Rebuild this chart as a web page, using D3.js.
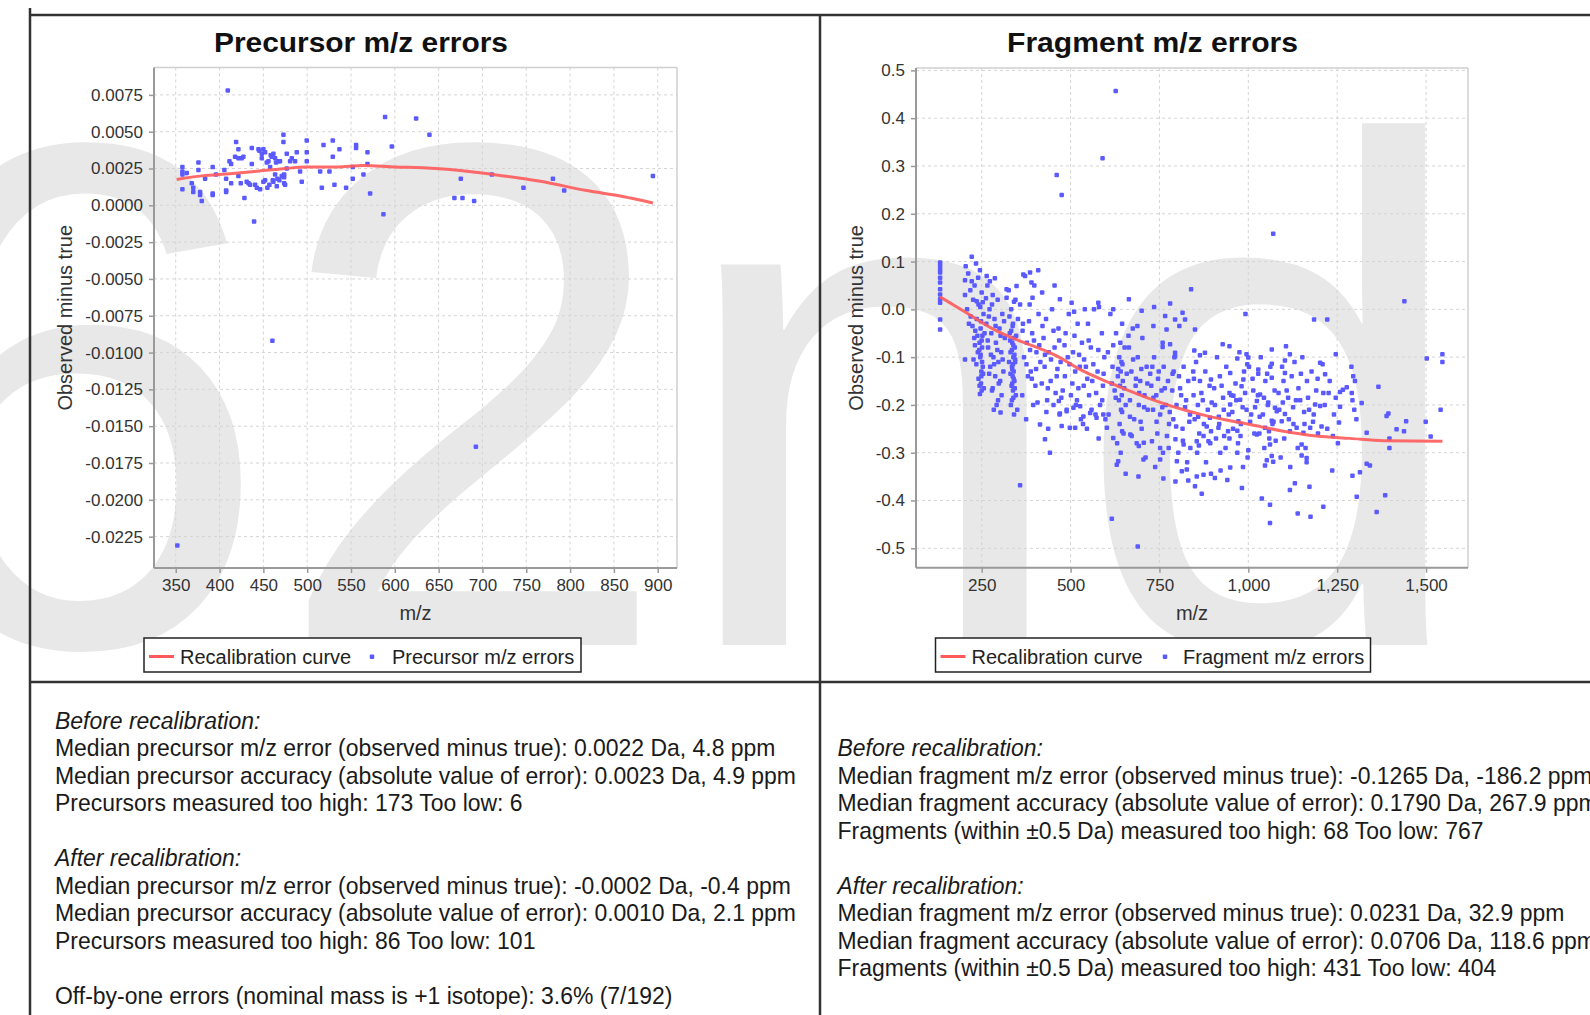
<!DOCTYPE html>
<html>
<head>
<meta charset="utf-8">
<script src="https://cdn.jsdelivr.net/npm/d3@7"></script>
<style>
  body { margin: 0; background: #fff; overflow: hidden; }
  svg { display: block; }
</style>
</head>
<body>
<svg id="chart" width="1590" height="1015"></svg>
<script>
// Recalibration report — precursor and fragment m/z error scatter plots
// with fitted recalibration curves, plus the summary text below each.

const precursorXTicks = [350, 400, 450, 500, 550, 600, 650, 700, 750, 800, 850, 900];
const precursorYTicks = [0.0075, 0.005, 0.0025, 0, -0.0025, -0.005, -0.0075, -0.01, -0.0125, -0.015, -0.0175, -0.02, -0.0225];
const fragmentXTicks = [250, 500, 750, 1000, 1250, 1500];
const fragmentYTicks = [0.5, 0.4, 0.3, 0.2, 0.1, 0, -0.1, -0.2, -0.3, -0.4, -0.5];

// [m/z, observed minus true]
const precursorPoints = [
  [409.4, 0.0078], [357.6, 0.0026], [357.6, 0.0023], [357.6, 0.0021], [357.6, 0.0011],
  [362.6, 0.0022], [368.3, 0.0015], [370, 0.0012], [370, 0.0009], [375.9, 0.0029],
  [375.9, 0.0024], [377.8, 0.0009], [377.8, 0.0007], [379.7, 0.0003], [383.5, 0.0018],
  [392.2, 0.0026], [392.2, 0.0007], [392.2, 0.0008], [396, 0.0021], [405.5, 0.0024],
  [407.5, 0.0010], [407.5, 0.0009], [407.5, 0.0018], [411.3, 0.0030], [413.2, 0.0028],
  [413.2, 0.0015], [417.7, 0.0033], [418.9, 0.0043], [421.5, 0.0038], [421.5, 0.0032],
  [421.5, 0.0020], [424.2, 0.0015], [425.3, 0.0032], [427.2, 0.0033], [428.4, 0.0005],
  [431, 0.0016], [433, 0.0015], [434.8, 0.0014], [436.8, 0.0039], [436.8, 0.0028],
  [439.4, -0.0011], [440.6, 0.0014], [442.5, 0.0012], [444.4, 0.0038], [445.5, 0.0037],
  [446.3, 0.0011], [448.2, 0.0032], [448.2, 0.0035], [450, 0.0016], [450, 0.0038],
  [452, 0.0036], [452, 0.0017], [453.9, 0.0029], [454.6, 0.0012], [455.8, 0.0030],
  [456.9, 0.0014], [457.7, 0.0026], [458.4, 0.0034], [459.6, 0.0033], [460.7, 0.0017],
  [461.5, 0.0035], [461.5, 0.0016], [463.4, 0.0021], [463.4, 0.0032], [464.5, 0.0029],
  [465.3, 0.0013], [466, 0.0018], [467.2, 0.0030], [468.3, 0.0017], [469, 0.0030],
  [471, 0.0020], [472.9, 0.0048], [472.9, 0.0043], [473.7, 0.0021], [473.7, 0.0019],
  [473.7, 0.0015], [474.8, 0.0014], [476.7, 0.0035], [476.7, 0.0025], [480.5, 0.0030],
  [482.4, 0.0032], [486.2, 0.0030], [488.1, 0.0036], [491.9, 0.0023], [493.8, 0.0016],
  [499.5, 0.0044], [499.5, 0.0036], [499.5, 0.0030], [514.8, 0.0023], [516.7, 0.0012],
  [518.6, 0.0041], [525.4, 0.0023], [529.2, 0.0044], [529.2, 0.0033], [531.1, 0.0014],
  [536.8, 0.0038], [544.4, 0.0012], [552, 0.0026], [552, 0.0018], [555.8, 0.0041],
  [555.8, 0.0039], [564.2, 0.0021], [568.8, 0.0036], [568.8, 0.0028], [571.8, 0.0008],
  [587, -0.0006], [588.9, 0.0060], [596.6, 0.0040], [624.3, 0.0059], [639.5, 0.0048],
  [675.3, 0.0018], [668, 0.0005], [677.2, 0.0005], [690.5, 0.0003], [710.7, 0.0021],
  [746.8, 0.0012], [780.4, 0.0018], [793.3, 0.0010], [894.5, 0.0020],
  [460.3, -0.0092], [351.8, -0.0231], [692.5, -0.0164]
];

const precursorCurveMz = [351, 380, 412, 440, 473, 500, 534, 564, 600, 632, 663, 712, 766, 819, 860, 894.5];
const precursorCurveErr = [0.00176, 0.0020, 0.00215, 0.0023, 0.00249, 0.0026, 0.0026, 0.0027, 0.0026, 0.00256, 0.00244, 0.0021, 0.00163, 0.0010, 0.0006, 0.00016];

const fragmentPoints = [
  // outliers and sparse edges
  [627, 0.457], [590, 0.316], [461, 0.281], [475, 0.239], [1070, 0.158], [1439, 0.017],
  [133, 0.098], [133, 0.091], [133, 0.084], [133, 0.077], [133, 0.066], [133, 0.056],
  [133, 0.042], [133, 0.031], [133, 0.021], [133, 0.014], [133, -0.021], [133, -0.042],
  [222, 0.110], [234, 0.096], [245, 0.082], [203, 0.061], [222, 0.059], [240, 0.066],
  [264, 0.070], [273, 0.059], [287, 0.065], [348, 0.049], [367, 0.073], [386, 0.077],
  [409, 0.082], [390, 0.056], [320, 0.042], [203, 0.030], [236, 0.017], [262, 0.023],
  [320, 0.024], [341, 0.016], [358, 0.010], [393, 0.024], [470, 0.021], [503, 0.014],
  [578, 0.014], [664, 0.021], [839, 0.042],
  [420, 0.035], [455, 0.050], [510, -0.005], [540, 0.000], [580, 0.005], [620, 0.000],
  [700, -0.003], [735, 0.005], [780, 0.012],
  [358, -0.368], [428, -0.272], [442, -0.300], [414, -0.241], [303, -0.216], [245, -0.177],
  [203, -0.105], [616, -0.438], [689, -0.496], [655, -0.344], [630, -0.325], [634, -0.318],
  [705, -0.314], [691, -0.350], [752, -0.314], [761, -0.354], [799, -0.318], [813, -0.339],
  [827, -0.335], [850, -0.370], [869, -0.386], [831, -0.358], [855, -0.350], [874, -0.346],
  [475, -0.244], [498, -0.248], [513, -0.248], [470, -0.218], [489, -0.213], [467, -0.192],
  [508, -0.206], [527, -0.203], [536, -0.224], [555, -0.217], [573, -0.227], [592, -0.220],
  [602, -0.248], [620, -0.269], [645, -0.255], [668, -0.262], [692, -0.286], [706, -0.279],
  [729, -0.276], [752, -0.290], [776, -0.290], [795, -0.272], [818, -0.283], [837, -0.290],
  [855, -0.276], [874, -0.265], [888, -0.276],
  [992, -0.010], [1185, -0.021], [1222, -0.021], [766, -0.014], [794, -0.021], [815, -0.007],
  [822, -0.021], [733, -0.035], [770, -0.042], [806, -0.035], [850, -0.042], [759, -0.070],
  [780, -0.073], [759, -0.079], [794, -0.091], [794, -0.098], [848, -0.086], [864, -0.096],
  [878, -0.091], [928, -0.073], [947, -0.077], [1066, -0.084], [1106, -0.077], [1117, -0.094],
  [1246, -0.094], [1502, -0.103], [1546, -0.094], [969, -0.103], [995, -0.094], [1000, -0.101],
  [1546, -0.110], [1541, -0.210], [1499, -0.235], [1513, -0.266], [1444, -0.234], [1438, -0.255],
  [1417, -0.251], [1389, -0.223], [1394, -0.218], [1366, -0.162], [1397, -0.270], [1397, -0.290],
  [1385, -0.389], [1361, -0.424], [1333, -0.323], [1342, -0.327], [1333, -0.258], [1319, -0.196],
  [1314, -0.341], [1293, -0.348], [1305, -0.392], [1291, -0.175], [1277, -0.163], [1266, -0.168],
  [1258, -0.173], [1246, -0.185], [1258, -0.204], [1255, -0.237], [1236, -0.337], [1211, -0.413],
  [1175, -0.434], [1139, -0.427], [1172, -0.371], [1117, -0.378], [1131, -0.364], [1061, -0.447],
  [1061, -0.409], [1038, -0.396], [982, -0.374], [1150, -0.283], [1150, -0.306], [1164, -0.311],
  [1164, -0.320], [1047, -0.327], [1052, -0.316], [1066, -0.307], [1070, -0.319], [1061, -0.283],
  [1000, -0.295], [969, -0.300], [895, -0.344], [906, -0.353], [922, -0.337], [941, -0.357],
  [949, -0.331], [895, -0.255], [916, -0.248], [947, -0.270], [969, -0.254], [1024, -0.262],
  [1047, -0.248], [1066, -0.233], [1080, -0.213], [1103, -0.219], [1117, -0.255], [1136, -0.248],
  [1155, -0.258], [1174, -0.248], [1188, -0.199], [1202, -0.202], [1211, -0.175], [1216, -0.136],
  [1209, -0.115], [1202, -0.112], [1103, -0.107], [1103, -0.133], [1099, -0.150], [1066, -0.114],
  [1066, -0.143], [1028, -0.126], [1028, -0.135], [997, -0.115], [986, -0.147], [981, -0.161],
  [949, -0.133], [947, -0.175], [949, -0.199], [977, -0.189], [984, -0.205], [1024, -0.192],
  [1033, -0.178], [1056, -0.195], [1075, -0.206], [1094, -0.234], [972, -0.234], [958, -0.181],
  [920, -0.140], [895, -0.147], [892, -0.227],
  // dense cloud, m/z 200-1300
  [205, 0.09], [212, 0.075], [230, 0.05], [218, 0.04], [250, 0.035], [226, 0.02], [241, 0.01],
  [209, 0.0], [255, -0.01], [236, -0.02], [214, -0.03], [247, -0.04], [258, -0.05], [229, -0.06],
  [244, -0.07], [251, -0.08], [239, -0.09], [246, -0.1], [253, -0.12], [249, -0.14], [244, -0.16],
  [250, -0.17], [248, -0.025], [252, -0.055], [250, -0.065], [247, -0.095], [251, -0.11], [249, -0.13],
  [224, -0.035], [232, -0.045], [238, -0.055], [243, -0.085], [227, -0.105], [235, -0.115],
  [254, -0.135], [241, -0.145], [248, -0.155], [256, -0.165], [231, -0.075], [219, -0.015],
  [246, 0.005], [253, 0.015],
  [266, 0.05], [281, 0.03], [295, 0.02], [272, 0.0], [308, -0.01], [286, -0.02], [263, -0.03],
  [300, -0.04], [277, -0.05], [315, -0.06], [290, -0.07], [268, -0.08], [305, -0.09], [283, -0.10],
  [297, -0.11], [274, -0.12], [311, -0.13], [288, -0.14], [302, -0.15], [279, -0.17], [296, -0.19],
  [284, -0.21], [270, -0.015], [289, -0.035], [303, -0.055], [267, -0.065], [294, -0.085],
  [276, -0.095], [309, -0.105], [285, -0.115], [271, -0.135], [298, -0.155], [281, -0.165],
  [306, -0.18], [292, -0.2], [313, -0.025], [279, 0.01],
  [326, 0.04], [345, 0.02], [333, 0.0], [352, -0.02], [338, -0.03], [329, -0.05], [341, -0.06],
  [336, -0.07], [343, -0.08], [331, -0.09], [339, -0.10], [344, -0.11], [335, -0.12], [340, -0.13],
  [337, -0.14], [342, -0.15], [334, -0.16], [338, -0.17], [346, -0.18], [332, -0.20], [341, -0.22],
  [337, -0.035], [339, -0.075], [342, -0.095], [336, -0.125], [340, -0.145],
  [328, -0.015], [333, -0.045], [347, -0.055], [330, -0.065], [335, -0.085], [344, -0.105],
  [338, -0.115], [331, -0.135], [336, -0.155], [343, -0.165], [339, -0.185], [335, -0.19],
  [350, -0.21], [327, -0.11],
  [372, 0.07], [398, 0.05], [385, 0.01], [410, -0.01], [366, -0.03], [392, -0.05], [377, -0.07],
  [404, -0.09], [369, -0.1], [415, -0.11], [388, -0.13], [380, -0.14], [401, -0.16], [364, -0.18],
  [395, -0.2], [375, -0.23],
  [365, -0.045], [383, -0.025], [397, -0.065], [412, -0.075], [428, -0.095], [445, -0.105],
  [463, -0.125], [376, -0.115], [391, -0.145], [419, -0.155], [436, -0.165], [458, -0.175],
  [474, -0.185], [403, -0.125], [421, -0.035], [452, -0.045], [468, -0.065], [386, -0.085],
  [407, -0.195], [432, -0.215],
  [448, 0.0], [431, -0.02], [466, -0.04], [424, -0.06], [455, -0.08], [439, -0.09], [472, -0.11],
  [427, -0.12], [461, -0.14], [444, -0.15], [478, -0.17], [434, -0.19], [452, -0.2], [469, -0.22],
  [437, -0.25],
  [495, -0.01], [520, -0.03], [486, -0.05], [532, -0.07], [507, -0.09], [492, -0.1], [526, -0.12],
  [513, -0.13], [484, -0.14], [537, -0.16], [501, -0.18], [518, -0.19], [489, -0.21], [529, -0.23],
  [483, -0.075], [497, -0.115], [511, -0.055], [524, -0.095], [538, -0.105], [551, -0.065],
  [564, -0.115], [578, -0.085], [593, -0.135], [505, -0.155], [522, -0.165], [547, -0.145],
  [572, -0.175], [589, -0.19], [515, -0.2], [559, -0.21], [535, -0.24], [598, -0.23],
  [566, 0.0], [549, -0.03], [588, -0.05], [557, -0.08], [595, -0.1], [543, -0.12], [576, -0.13],
  [561, -0.15], [591, -0.16], [552, -0.18], [583, -0.2], [570, -0.22], [546, -0.25], [579, -0.27],
  [612, -0.01], [645, -0.03], [628, -0.05], [640, -0.07], [652, -0.08], [637, -0.1], [643, -0.11],
  [618, -0.12], [641, -0.13], [633, -0.14], [647, -0.15], [639, -0.16], [624, -0.17], [644, -0.18],
  [636, -0.19], [655, -0.2], [642, -0.21], [607, -0.22], [638, -0.24], [649, -0.26], [631, -0.28],
  [641, -0.3],
  [605, -0.09], [616, -0.155], [627, -0.185], [634, -0.125], [646, -0.115], [651, -0.165],
  [658, -0.135], [667, -0.225], [676, -0.105], [684, -0.145], [693, -0.175], [699, -0.125],
  [707, -0.205], [716, -0.155], [663, -0.055], [688, -0.035], [620, -0.075], [645, -0.215],
  [672, -0.265], [697, -0.235],
  [675, -0.04], [702, -0.06], [664, -0.08], [689, -0.1], [714, -0.12], [671, -0.13], [696, -0.15],
  [683, -0.16], [708, -0.18], [667, -0.19], [692, -0.2], [717, -0.21], [679, -0.23], [700, -0.25],
  [686, -0.28], [711, -0.31],
  [735, -0.1], [762, -0.12], [748, -0.13], [774, -0.15], [727, -0.16], [756, -0.17], [741, -0.18],
  [768, -0.2], [732, -0.21], [752, -0.22], [777, -0.24], [744, -0.26], [760, -0.3], [738, -0.33],
  [724, -0.135], [733, -0.185], [746, -0.145], [758, -0.205], [765, -0.165], [779, -0.215],
  [787, -0.135], [797, -0.245], [808, -0.165], [822, -0.205], [834, -0.235], [847, -0.145],
  [859, -0.225], [868, -0.175], [883, -0.245], [897, -0.195], [742, -0.235], [771, -0.265],
  [816, -0.275], [861, -0.285], [730, -0.12], [790, -0.13], [845, -0.13],
  [792, -0.1], [818, -0.12], [805, -0.14], [831, -0.15], [786, -0.17], [811, -0.18], [825, -0.19],
  [798, -0.2], [836, -0.22], [789, -0.23], [815, -0.25], [803, -0.3], [828, -0.32], [795, -0.36],
  [853, -0.11], [879, -0.13], [864, -0.15], [891, -0.16], [846, -0.18], [872, -0.19], [858, -0.2],
  [886, -0.21], [849, -0.23], [875, -0.24], [862, -0.26], [893, -0.28], [856, -0.3], [881, -0.32],
  [912, -0.1], [938, -0.12], [925, -0.16], [952, -0.18], [906, -0.2], [931, -0.21], [945, -0.22],
  [918, -0.24], [957, -0.25], [909, -0.27], [936, -0.29], [921, -0.3],
  [904, -0.165], [917, -0.225], [929, -0.185], [943, -0.255], [955, -0.215], [964, -0.155],
  [978, -0.265], [991, -0.175], [1005, -0.235], [1019, -0.205], [1032, -0.225], [1044, -0.185],
  [1058, -0.255], [1071, -0.235], [1085, -0.175], [1097, -0.195], [1012, -0.145], [1053, -0.135],
  [932, -0.265], [1077, -0.275],
  [975, -0.09], [1002, -0.12], [988, -0.13], [1014, -0.17], [966, -0.19], [995, -0.21], [1008, -0.22],
  [979, -0.24], [1017, -0.26], [971, -0.28], [998, -0.31], [985, -0.33],
  [1035, -0.1], [1062, -0.12], [1048, -0.15], [1074, -0.17], [1027, -0.18], [1055, -0.2], [1041, -0.22],
  [1068, -0.24], [1031, -0.26], [1059, -0.27], [1045, -0.29],
  [1095, -0.12], [1122, -0.14], [1108, -0.17], [1134, -0.19], [1087, -0.21], [1114, -0.23], [1127, -0.24],
  [1101, -0.27], [1139, -0.29], [1091, -0.31], [1118, -0.33],
  [1152, -0.1], [1178, -0.13], [1165, -0.15], [1191, -0.17], [1146, -0.19], [1171, -0.21], [1184, -0.22],
  [1158, -0.24], [1196, -0.26], [1161, -0.29],
  [1112, -0.185], [1126, -0.205], [1141, -0.165], [1157, -0.215], [1168, -0.185], [1182, -0.235],
  [1195, -0.145], [1206, -0.245], [1226, -0.175], [1238, -0.265], [1148, -0.135], [1130, -0.11],
  [1229, -0.15], [1215, -0.2], [1241, -0.22], [1222, -0.25], [1252, -0.28],
  [1290, -0.12], [1295, -0.14], [1300, -0.15], [1293, -0.19], [1298, -0.21], [1304, -0.23]
];

const fragmentCurveMz = [133, 200, 292, 350, 423, 475, 517, 611, 705, 799, 883, 1005, 1099, 1192, 1286, 1380, 1546];
const fragmentCurveErr = [0.026, -0.004, -0.045, -0.064, -0.085, -0.103, -0.122, -0.154, -0.182, -0.206, -0.223, -0.241, -0.255, -0.265, -0.270, -0.275, -0.276];

const precursorStats = [
  'Before recalibration:',
  'Median precursor m/z error (observed minus true): 0.0022 Da, 4.8 ppm',
  'Median precursor accuracy (absolute value of error): 0.0023 Da, 4.9 ppm',
  'Precursors measured too high: 173 Too low: 6',
  '',
  'After recalibration:',
  'Median precursor m/z error (observed minus true): -0.0002 Da, -0.4 ppm',
  'Median precursor accuracy (absolute value of error): 0.0010 Da, 2.1 ppm',
  'Precursors measured too high: 86 Too low: 101',
  '',
  'Off-by-one errors (nominal mass is +1 isotope): 3.6% (7/192)'
];
const fragmentStats = [
  'Before recalibration:',
  'Median fragment m/z error (observed minus true): -0.1265 Da, -186.2 ppm',
  'Median fragment accuracy (absolute value of error): 0.1790 Da, 267.9 ppm',
  'Fragments (within \u00b10.5 Da) measured too high: 68 Too low: 767',
  '',
  'After recalibration:',
  'Median fragment m/z error (observed minus true): 0.0231 Da, 32.9 ppm',
  'Median fragment accuracy (absolute value of error): 0.0706 Da, 118.6 ppm',
  'Fragments (within \u00b10.5 Da) measured too high: 431 Too low: 404'
];

const FONT = 'Liberation Sans, Arial, Helvetica, sans-serif';
const BLUE = '#5a5aff';
const RED = '#ff5a5a';

const svg = d3.select('#chart');

// background watermark
svg.append('text')
  .attr('x', -128).attr('y', 645)
  .attr('font-family', FONT)
  .attr('font-size', 720)
  .attr('fill', '#e8e8e8')
  .text('62nd');

const panels = [
  {
    title: 'Precursor m/z errors', titleX: 361, titleW: 294,
    points: precursorPoints, curveMz: precursorCurveMz, curveErr: precursorCurveErr,
    x: d3.scaleLinear().domain([325.2, 922]).range([154, 677]),
    y: d3.scaleLinear().domain([-0.02463, 0.00936]).range([568, 67.5]),
    xTicks: precursorXTicks, yTicks: precursorYTicks,
    yFmt: v => v.toFixed(4), yLabelX: 71.5,
    legend: { x0: 144, x1: 581, dotX: 372, text2: 'Precursor m/z errors', text2X: 392 }
  },
  {
    title: 'Fragment m/z errors', titleX: 1152.5, titleW: 291,
    points: fragmentPoints, curveMz: fragmentCurveMz, curveErr: fragmentCurveErr,
    x: d3.scaleLinear().domain([65.2, 1618]).range([916, 1468]),
    y: d3.scaleLinear().domain([-0.5406, 0.505]).range([567.7, 68]),
    xTicks: fragmentXTicks, yTicks: fragmentYTicks,
    yFmt: v => v.toFixed(1), yLabelX: 863,
    legend: { x0: 935.5, x1: 1370.5, dotX: 1165, text2: 'Fragment m/z errors', text2X: 1183 }
  }
];

panels.forEach(p => {
  const [x0, x1] = p.x.range();
  const [y1, y0] = p.y.range();
  const g = svg.append('g');

  // title
  g.append('text')
    .attr('x', p.titleX).attr('y', 52)
    .attr('text-anchor', 'middle')
    .attr('font-family', FONT).attr('font-weight', 'bold')
    .attr('font-size', 28)
    .attr('textLength', p.titleW).attr('lengthAdjust', 'spacingAndGlyphs')
    .attr('fill', '#111')
    .text(p.title);

  // dashed grid
  g.append('g').selectAll('line').data(p.xTicks).join('line')
    .attr('x1', d => p.x(d)).attr('x2', d => p.x(d))
    .attr('y1', y0).attr('y2', y1)
    .attr('stroke', '#d4d4d4').attr('stroke-width', 1)
    .attr('stroke-dasharray', '3,3');
  g.append('g').selectAll('line').data(p.yTicks).join('line')
    .attr('x1', x0).attr('x2', x1)
    .attr('y1', d => p.y(d)).attr('y2', d => p.y(d))
    .attr('stroke', '#d4d4d4').attr('stroke-width', 1)
    .attr('stroke-dasharray', '3,3');

  // plot border: light top/right, darker axis lines
  g.append('line').attr('x1', x0).attr('x2', x1).attr('y1', y0).attr('y2', y0)
    .attr('stroke', '#cfcfcf').attr('stroke-width', 1.5);
  g.append('line').attr('x1', x1).attr('x2', x1).attr('y1', y0).attr('y2', y1)
    .attr('stroke', '#cfcfcf').attr('stroke-width', 1.5);

  const yAxis = g.append('g')
    .attr('transform', `translate(${x0},0)`)
    .call(d3.axisLeft(p.y).tickValues(p.yTicks).tickFormat(p.yFmt).tickSize(5).tickPadding(6));
  const xAxis = g.append('g')
    .attr('transform', `translate(0,${y1})`)
    .call(d3.axisBottom(p.x).tickValues(p.xTicks).tickFormat(d3.format(',')).tickSize(5).tickPadding(6));
  [yAxis, xAxis].forEach(a => {
    a.select('.domain').attr('stroke', '#9a9a9a').attr('stroke-width', 2);
    a.selectAll('.tick line').attr('stroke', '#9a9a9a').attr('stroke-width', 1.5);
    a.selectAll('.tick text')
      .attr('font-family', FONT).attr('font-size', 17).attr('fill', '#333');
  });
  yAxis.select('.domain').attr('d', `M0,${y0}V${y1}`);
  xAxis.select('.domain').attr('d', `M${x0},0H${x1}`);

  // axis titles
  g.append('text')
    .attr('transform', `translate(${p.yLabelX},${(y0 + y1) / 2}) rotate(-90)`)
    .attr('text-anchor', 'middle')
    .attr('font-family', FONT).attr('font-size', 20).attr('fill', '#333')
    .text('Observed minus true');
  g.append('text')
    .attr('x', (x0 + x1) / 2).attr('y', 620)
    .attr('text-anchor', 'middle')
    .attr('font-family', FONT).attr('font-size', 20).attr('fill', '#333')
    .text('m/z');

  // points
  g.append('g').selectAll('rect').data(p.points).join('rect')
    .attr('x', d => p.x(d[0]) - 2.25).attr('y', d => p.y(d[1]) - 2.25)
    .attr('width', 4.5).attr('height', 4.5).attr('rx', 1)
    .attr('fill', BLUE);

  // recalibration curve
  const line = d3.line().curve(d3.curveMonotoneX)
    .x((d, i) => p.x(p.curveMz[i])).y((d, i) => p.y(p.curveErr[i]));
  g.append('path')
    .attr('d', line(p.curveMz))
    .attr('fill', 'none').attr('stroke', RED).attr('stroke-width', 3)
    .attr('stroke-opacity', 0.9);

  // legend
  const L = p.legend;
  g.append('rect')
    .attr('x', L.x0).attr('y', 638).attr('width', L.x1 - L.x0).attr('height', 34)
    .attr('fill', '#fff').attr('stroke', '#222').attr('stroke-width', 1.5);
  g.append('line')
    .attr('x1', L.x0 + 5).attr('x2', L.x0 + 30).attr('y1', 656.5).attr('y2', 656.5)
    .attr('stroke', RED).attr('stroke-width', 3);
  g.append('text')
    .attr('x', L.x0 + 36).attr('y', 663.5)
    .attr('font-family', FONT).attr('font-size', 20).attr('fill', '#222')
    .text('Recalibration curve');
  g.append('rect')
    .attr('x', L.dotX - 2.25).attr('y', 654.5).attr('width', 4.5).attr('height', 4.5)
    .attr('rx', 1).attr('fill', BLUE);
  g.append('text')
    .attr('x', L.text2X).attr('y', 663.5)
    .attr('font-family', FONT).attr('font-size', 20).attr('fill', '#222')
    .text(L.text2);
});

// window frame lines
const frame = svg.append('g').attr('stroke', '#333').attr('stroke-width', 2.5);
frame.append('line').attr('x1', 30).attr('x2', 1590).attr('y1', 15).attr('y2', 15);
frame.append('line').attr('x1', 30).attr('x2', 30).attr('y1', 8).attr('y2', 1015);
frame.append('line').attr('x1', 820).attr('x2', 820).attr('y1', 15).attr('y2', 1015);
frame.append('line').attr('x1', 30).attr('x2', 1590).attr('y1', 682).attr('y2', 682);

// summary text, condensed to match the original rendering
function drawStats(lines, x, yStart) {
  const g = svg.append('g');
  const lh = 27.5;
  const probe = g.append('text').attr('font-family', FONT).attr('font-size', 24)
    .text('Median precursor m/z error (observed minus true): 0.0022 Da, 4.8 ppm');
  const k = 721 / probe.node().getComputedTextLength();
  probe.remove();
  lines.forEach((t, i) => {
    if (!t) return;
    g.append('text')
      .attr('transform', `translate(${x},${yStart + i * lh}) scale(${k},1)`)
      .attr('font-family', FONT).attr('font-size', 24)
      .attr('font-style', /recalibration:$/.test(t) ? 'italic' : 'normal')
      .attr('fill', '#1a1a1a')
      .text(t);
  });
}
drawStats(precursorStats, 55, 728.5);
drawStats(fragmentStats, 837.5, 756);
</script>
</body>
</html>
